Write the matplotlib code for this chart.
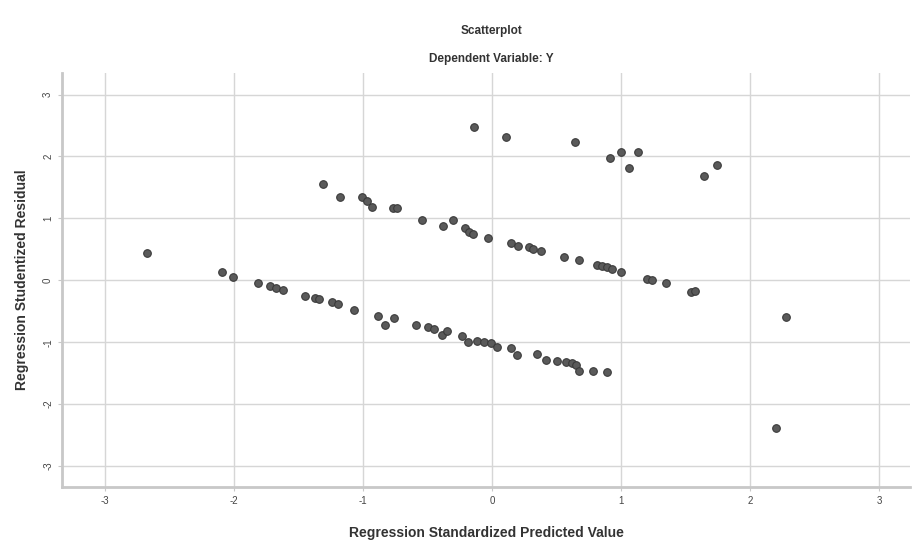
import numpy as np
import matplotlib.pyplot as plt

plt.rcParams['font.family'] = ['Liberation Sans', 'DejaVu Sans']
plt.rcParams['axes.unicode_minus'] = False

# regression standardized predicted value / studentized residual
pred_low = [-2.09, -2.01, -1.81, -1.72, -1.67, -1.62, -1.45, -1.37, -1.34, -1.24,
            -1.19, -1.07, -0.88, -0.83, -0.76, -0.59, -0.50, -0.45, -0.39, -0.35,
            -0.23, -0.19, -0.12, -0.06, -0.01, 0.04, 0.15, 0.19, 0.35, 0.42,
            0.50, 0.57, 0.62, 0.65, 0.67, 0.78, 0.89]
resid_low = [0.13, 0.05, -0.05, -0.10, -0.12, -0.16, -0.26, -0.29, -0.31, -0.35,
             -0.39, -0.48, -0.58, -0.73, -0.61, -0.73, -0.76, -0.78, -0.89, -0.82,
             -0.90, -0.99, -0.98, -1.00, -1.01, -1.08, -1.10, -1.21, -1.19, -1.29,
             -1.30, -1.32, -1.34, -1.37, -1.46, -1.46, -1.48]

pred_mid = [-1.31, -1.18, -1.01, -0.97, -0.93, -0.77, -0.74, -0.54, -0.38, -0.30,
            -0.21, -0.18, -0.15, -0.03, 0.15, 0.20, 0.29, 0.32, 0.38, 0.56,
            0.67, 0.81, 0.85, 0.89, 0.93, 1.00, 1.20, 1.24, 1.35, 1.54, 1.57]
resid_mid = [1.56, 1.35, 1.34, 1.28, 1.18, 1.16, 1.17, 0.97, 0.87, 0.98,
             0.84, 0.78, 0.74, 0.69, 0.60, 0.55, 0.54, 0.50, 0.48, 0.38,
             0.33, 0.24, 0.23, 0.21, 0.19, 0.13, 0.02, 0.00, -0.05, -0.19, -0.18]

pred_high = [-0.14, 0.11, 0.64, 0.91, 1.00, 1.06, 1.13, 1.64, 1.74]
resid_high = [2.48, 2.32, 2.23, 1.97, 2.08, 1.81, 2.08, 1.68, 1.87]

pred_out = [-2.67, 2.28, 2.20]
resid_out = [0.44, -0.60, -2.39]

x = np.array(pred_low + pred_mid + pred_high + pred_out)
y = np.array(resid_low + resid_mid + resid_high + resid_out)

ticks = [-3, -2, -1, 0, 1, 2, 3]

fig = plt.figure(figsize=(9.14, 5.4), dpi=100)
ax = fig.add_axes([0.068, 0.098, 0.928, 0.767])

ax.scatter(x, y, s=30, color='#5a5a5a', edgecolors='#3a3a3a', linewidths=0.8, zorder=3)

ax.set_xlim(-3.33, 3.24)
ax.set_ylim(-3.34, 3.35)
ax.set_xticks(ticks)
ax.set_yticks(ticks)
ax.grid(True, color='#d6d6d6', linewidth=1.0)
ax.set_axisbelow(True)

for s in ['top', 'right']:
    ax.spines[s].set_visible(False)
for s in ['left', 'bottom']:
    ax.spines[s].set_color('#c8c8c8')
    ax.spines[s].set_linewidth(2)

ax.tick_params(axis='both', colors='#c8c8c8', labelcolor='#444444', labelsize=7, length=3)
for lbl in ax.get_yticklabels():
    lbl.set_rotation(90)
    lbl.set_va('center')

ax.set_xlabel('Regression Standardized Predicted Value', fontsize=10, fontweight='bold',
              color='#333333', labelpad=14)
ax.set_ylabel('Regression Studentized Residual', fontsize=10, fontweight='bold',
              color='#333333', labelpad=10)

fig.text(0.538, 0.942, 'Scatterplot', ha='center', va='center', fontsize=8.5,
         fontweight='bold', color='#333333')
fig.text(0.538, 0.891, 'Dependent Variable: Y', ha='center', va='center', fontsize=8.5,
         fontweight='bold', color='#333333')

fig.savefig('out.png', dpi=100)
